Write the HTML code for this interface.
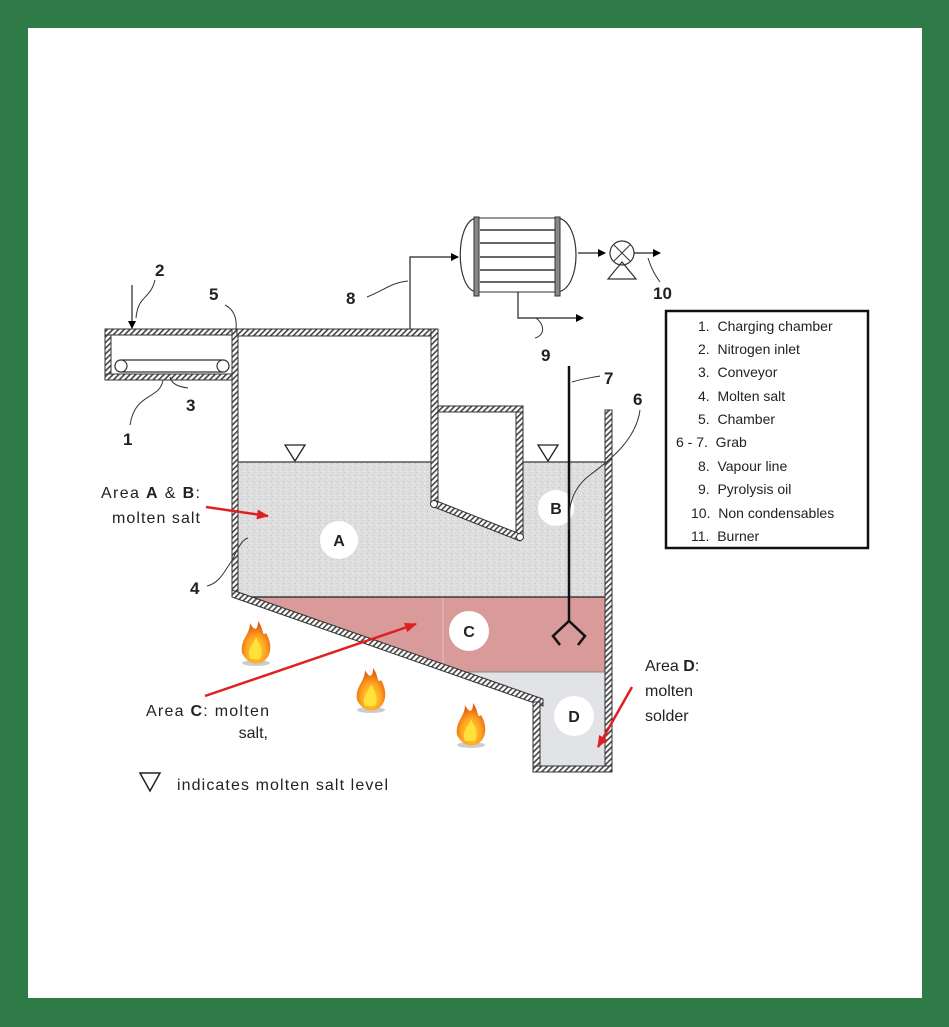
<!DOCTYPE html>
<html><head><meta charset="utf-8"><style>
html,body{margin:0;padding:0;background:#2e7b47;}
svg{display:block}
</style></head><body>
<svg width="949" height="1027" viewBox="0 0 949 1027" xmlns="http://www.w3.org/2000/svg" font-family="Liberation Sans, sans-serif">
<defs>
<pattern id="h" width="4" height="4" patternUnits="userSpaceOnUse" patternTransform="rotate(45)">
<rect width="4" height="4" fill="#fff"/><rect width="1.6" height="4" fill="#444"/></pattern>
<pattern id="sp" width="6" height="6" patternUnits="userSpaceOnUse">
<rect width="6" height="6" fill="#dedede"/><rect x="1" y="1" width="1" height="1" fill="#bdbdbd"/><rect x="4" y="3" width="1" height="1" fill="#f5f5f5"/><rect x="2" y="4" width="1" height="1" fill="#c8c8c8"/></pattern>
<marker id="ar" markerWidth="8" markerHeight="8" refX="7" refY="4" orient="auto" markerUnits="userSpaceOnUse"><path d="M0,0 L8,4 L0,8z" fill="#000"/></marker>
<marker id="rr" markerWidth="12" markerHeight="10" refX="11" refY="5" orient="auto" markerUnits="userSpaceOnUse"><path d="M0,0 L12,5 L0,10z" fill="#e02020"/></marker>
<radialGradient id="fl" cx="50%" cy="70%" r="60%"><stop offset="0" stop-color="#ffe030"/><stop offset="0.6" stop-color="#ffa020"/><stop offset="1" stop-color="#e06010"/></radialGradient>
<g id="flame"><ellipse cx="0" cy="18" rx="14" ry="3" fill="#ccc"/><path d="M-14,8 C-16,-6 -6,-10 -6,-22 C-2,-14 2,-14 2,-24 C8,-16 6,-8 10,-12 C16,-2 16,10 8,16 C2,20 -8,20 -14,8Z" fill="url(#fl)"/><path d="M-6,14 C-10,4 -2,0 0,-8 C4,0 8,6 4,14Z" fill="#ffe23a"/></g>
</defs>
<rect x="28" y="28" width="894" height="970" fill="#fff"/>

<rect x="238" y="462" width="368" height="135" fill="url(#sp)"/>
<polygon points="438,412 516,412 516,538 438,505" fill="#fff"/>
<polygon points="248,597 606,597 606,672 452,672" fill="#d99a9a"/>
<line x1="443" y1="597" x2="443" y2="665" stroke="#e8c0c0" stroke-width="1"/>
<polygon points="452,672 606,672 606,767 540,767 540,705" fill="#e2e3e6"/>
<line x1="238" y1="597" x2="606" y2="597" stroke="#222" stroke-width="1.2"/>
<line x1="452" y1="672" x2="606" y2="672" stroke="#888" stroke-width="1"/>

<line x1="238" y1="462" x2="432" y2="462" stroke="#555" stroke-width="1.5"/>
<line x1="523" y1="462" x2="606" y2="462" stroke="#555" stroke-width="1.5"/>
<polygon points="285,445 305,445 295,461" fill="#fff" stroke="#222" stroke-width="1.3"/>
<polygon points="538,445 558,445 548,461" fill="#fff" stroke="#222" stroke-width="1.3"/>

<g stroke="#333" stroke-width="1">
<rect x="105" y="329" width="6" height="51" fill="url(#h)"/>
<rect x="105" y="329" width="132" height="6" fill="url(#h)"/>
<rect x="105" y="374" width="132" height="6" fill="url(#h)"/>
<rect x="232" y="329" width="6" height="265" fill="url(#h)"/>
<rect x="237" y="329" width="201" height="7" fill="url(#h)"/>
<rect x="431" y="329" width="7" height="176" fill="url(#h)"/>
<rect x="438" y="406" width="85" height="6" fill="url(#h)"/>
<rect x="516" y="412" width="7" height="126" fill="url(#h)"/>
<polygon points="434,500 520,534 520,541 434,507" fill="url(#h)"/>
<rect x="605" y="410" width="7" height="362" fill="url(#h)"/>
<polygon points="232,590 543,699 543,706 232,597" fill="url(#h)"/>
<rect x="533" y="702" width="7" height="70" fill="url(#h)"/>
<rect x="533" y="766" width="79" height="6" fill="url(#h)"/>
</g>
<circle cx="434" cy="504" r="3.5" fill="#fff" stroke="#333"/>
<circle cx="520" cy="537" r="3.5" fill="#fff" stroke="#333"/>
<rect x="115" y="360" width="114" height="12" rx="6" fill="#fff" stroke="#333" stroke-width="1.2"/>
<circle cx="121" cy="366" r="6" fill="#fff" stroke="#333" stroke-width="1.2"/>
<circle cx="223" cy="366" r="6" fill="#fff" stroke="#333" stroke-width="1.2"/>

<g font-weight="bold" font-size="16" text-anchor="middle" fill="#222">
<circle cx="339" cy="540" r="19" fill="#fff"/><text x="339" y="546">A</text>
<circle cx="556" cy="508" r="18" fill="#fff"/><text x="556" y="514">B</text>
<circle cx="469" cy="631" r="20" fill="#fff"/><text x="469" y="637">C</text>
<circle cx="574" cy="716" r="20" fill="#fff"/><text x="574" y="722">D</text>
</g>

<line x1="569" y1="366" x2="569" y2="622" stroke="#111" stroke-width="2.5"/>
<path d="M560,645 L553,636 L569,621 L585,636 L578,645" fill="none" stroke="#111" stroke-width="2.5"/>

<path d="M476,218 C455,222 455,288 476,292 M558,218 C582,222 582,288 558,292" fill="#fff" stroke="#333" stroke-width="1.2"/>
<line x1="476" y1="218" x2="558" y2="218" stroke="#333"/><line x1="476" y1="292" x2="558" y2="292" stroke="#333"/>
<g stroke="#333" stroke-width="1.6">
<line x1="480" y1="230" x2="555" y2="230"/><line x1="480" y1="243" x2="555" y2="243"/><line x1="480" y1="257" x2="555" y2="257"/><line x1="480" y1="270" x2="555" y2="270"/><line x1="480" y1="282" x2="555" y2="282"/>
</g>
<rect x="474" y="217" width="5" height="79" fill="#888" stroke="#333"/>
<rect x="555" y="217" width="5" height="79" fill="#888" stroke="#333"/>
<polyline points="410,329 410,257 458,257" fill="none" stroke="#222" stroke-width="1.2" marker-end="url(#ar)"/>
<polyline points="518,292 518,318 583,318" fill="none" stroke="#222" stroke-width="1.2" marker-end="url(#ar)"/>
<line x1="578" y1="253" x2="605" y2="253" stroke="#222" stroke-width="1.2" marker-end="url(#ar)"/>
<circle cx="622" cy="253" r="12" fill="#fff" stroke="#333" stroke-width="1.2"/>
<line x1="614" y1="245" x2="630" y2="261" stroke="#333"/><line x1="630" y1="245" x2="614" y2="261" stroke="#333"/>
<polygon points="622,262 608,279 636,279" fill="none" stroke="#333" stroke-width="1.2"/>
<line x1="634" y1="253" x2="660" y2="253" stroke="#222" stroke-width="1.2" marker-end="url(#ar)"/>

<line x1="132" y1="285" x2="132" y2="328" stroke="#222" stroke-width="1.2" marker-end="url(#ar)"/>

<g fill="none" stroke="#333" stroke-width="1">
<path d="M155,280 C150,300 138,295 136,318"/>
<path d="M225,305 C235,310 237,320 236,330"/>
<path d="M367,297 C385,290 390,283 408,281"/>
<path d="M163,380 C160,400 135,392 130,425"/>
<path d="M170,377 C172,385 180,387 188,388"/>
<path d="M536,318 C545,325 545,335 535,338"/>
<path d="M572,382 C585,378 590,378 600,376"/>
<path d="M640,410 C636,440 610,460 590,475 C570,490 568,510 569,530"/>
<path d="M207,586 C220,583 225,570 231,562 C235,556 240,540 248,538"/>
<path d="M648,258 C652,270 655,275 660,282"/>
</g>

<g font-weight="bold" font-size="17" fill="#222">
<text x="155" y="276">2</text>
<text x="209" y="300">5</text>
<text x="346" y="304">8</text>
<text x="186" y="411">3</text>
<text x="123" y="445">1</text>
<text x="541" y="361">9</text>
<text x="604" y="384">7</text>
<text x="633" y="405">6</text>
<text x="653" y="299">10</text>
<text x="190" y="594">4</text>
</g>

<line x1="206" y1="507" x2="268" y2="516" stroke="#e02020" stroke-width="2.5" marker-end="url(#rr)"/>
<line x1="205" y1="696" x2="416" y2="624" stroke="#e02020" stroke-width="2.5" marker-end="url(#rr)"/>
<line x1="632" y1="687" x2="598" y2="747" stroke="#e02020" stroke-width="2.5" marker-end="url(#rr)"/>

<g font-size="16" fill="#222">
<text x="101" y="498" textLength="99" lengthAdjust="spacing">Area <tspan font-weight="bold">A</tspan> &amp; <tspan font-weight="bold">B</tspan>:</text>
<text x="112" y="523" textLength="88" lengthAdjust="spacing">molten salt</text>
<text x="146" y="716" textLength="123" lengthAdjust="spacing">Area <tspan font-weight="bold">C</tspan>: molten</text>
<text x="268" y="738" text-anchor="end">salt,</text>
<text x="645" y="671">Area <tspan font-weight="bold">D</tspan>:</text>
<text x="645" y="696">molten</text>
<text x="645" y="721">solder</text>
<text x="177" y="790" textLength="211" lengthAdjust="spacing">indicates molten salt level</text>
</g>
<polygon points="140,773 160,773 150,791" fill="none" stroke="#222" stroke-width="1.5"/>

<use href="#flame" x="256" y="645"/>
<use href="#flame" x="371" y="692"/>
<use href="#flame" x="471" y="727"/>

<rect x="666" y="311" width="202" height="237" fill="#fff" stroke="#111" stroke-width="2.5"/>
<g font-size="14" fill="#222">
<text x="698" y="331">1.&#160; Charging chamber</text>
<text x="698" y="354">2.&#160; Nitrogen inlet</text>
<text x="698" y="377">3.&#160; Conveyor</text>
<text x="698" y="401">4.&#160; Molten salt</text>
<text x="698" y="424">5.&#160; Chamber</text>
<text x="676" y="447">6 - 7.&#160; Grab</text>
<text x="698" y="471">8.&#160; Vapour line</text>
<text x="698" y="494">9.&#160; Pyrolysis oil</text>
<text x="691" y="518">10.&#160; Non condensables</text>
<text x="691" y="541">11.&#160; Burner</text>
</g>
</svg>
</body></html>
